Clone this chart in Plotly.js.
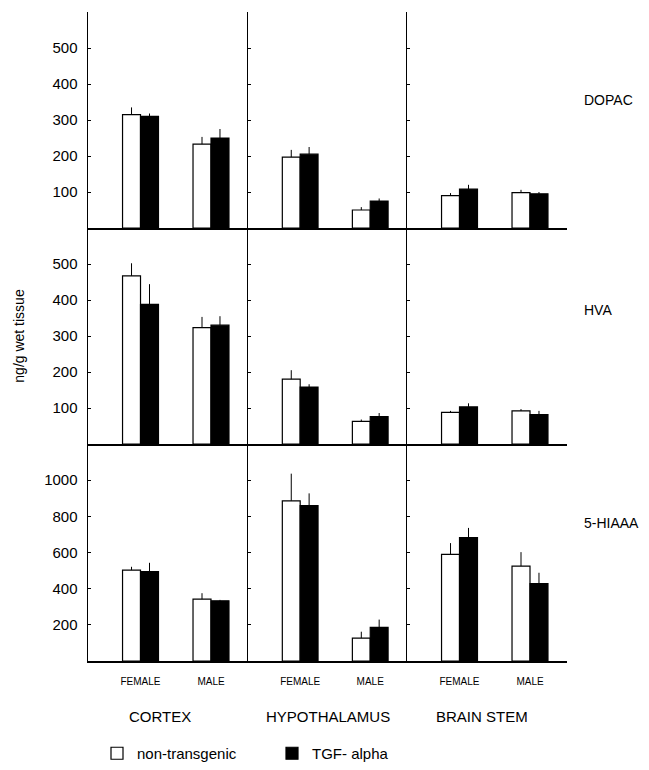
<!DOCTYPE html>
<html>
<head>
<meta charset="utf-8">
<script src="https://cdn.plot.ly/plotly-3.0.1.min.js"></script>
<style>
  html, body { margin: 0; padding: 0; background: #fff; }
  #chart { width: 649px; height: 770px; }
</style>
</head>
<body>
<div id="chart"></div>
<script>
// ---------- data ----------
const regions = ['CORTEX', 'HYPOTHALAMUS', 'BRAIN STEM'];
const sexes = ['FEMALE', 'MALE'];
const metabolites = ['DOPAC', 'HVA', '5-HIAAA'];
const seriesNames = ['non-transgenic', 'TGF- alpha'];

// values per region: [FEMALE, MALE]   (ng/g wet tissue)
const dopacNonTg    = [[315, 233], [197, 50], [90, 98]];
const dopacNonTgErr = [[20, 20], [20, 8], [7, 8]];
const dopacTgf      = [[310, 250], [205, 75], [108, 95]];
const dopacTgfErr   = [[8, 25], [20, 7], [12, 5]];

const hvaNonTg    = [[467, 323], [180, 63], [88, 92]];
const hvaNonTgErr = [[35, 30], [25, 5], [4, 5]];
const hvaTgf      = [[388, 330], [158, 76], [103, 82]];
const hvaTgfErr   = [[56, 25], [8, 10], [10, 10]];

const hiaaNonTg    = [[503, 342], [886, 127], [590, 525]];
const hiaaNonTgErr = [[18, 33], [150, 35], [62, 77]];
const hiaaTgf      = [[495, 333], [860, 186], [683, 428]];
const hiaaTgfErr   = [[48, 5], [67, 43], [53, 60]];

const yRanges = [[0, 600], [0, 600], [0, 1200]];
const yTickVals = [[100, 200, 300, 400, 500], [100, 200, 300, 400, 500], [200, 400, 600, 800, 1000]];
const noDown = [0, 0];

// ---------- layout helpers ----------
const W = 649, H = 770;
const px = v => v / W;
const py = v => 1 - v / H;
const colEdges = [88, 248, 407, 567];
const rowEdges = [[12, 228], [228, 444], [444, 661]];

const rowData = [
  [dopacNonTg, dopacNonTgErr, dopacTgf, dopacTgfErr],
  [hvaNonTg, hvaNonTgErr, hvaTgf, hvaTgfErr],
  [hiaaNonTg, hiaaNonTgErr, hiaaTgf, hiaaTgfErr]
];

const traces = [];
const layout = {
  width: W, height: H,
  margin: { l: 0, r: 0, t: 0, b: 0, autoexpand: false },
  paper_bgcolor: '#fff', plot_bgcolor: 'rgba(0,0,0,0)',
  font: { family: 'Liberation Sans, Arial, sans-serif', color: '#000', size: 15 },
  barmode: 'group', bargap: 0.49, bargroupgap: 0,
  showlegend: true,
  legend: {
    orientation: 'h', x: px(97), y: 0, xanchor: 'left', yanchor: 'bottom',
    font: { size: 15 }, entrywidth: 130, entrywidthmode: 'pixels',
    bgcolor: 'rgba(0,0,0,0)', borderwidth: 0
  },
  annotations: []
};

for (let r = 0; r < 3; r++) {
  const [nt, ntErr, tg, tgErr] = rowData[r];
  for (let c = 0; c < 3; c++) {
    const k = r * 3 + c + 1;
    const xa = 'x' + (k === 1 ? '' : k), ya = 'y' + (k === 1 ? '' : k);
    const xk = 'xaxis' + (k === 1 ? '' : k), yk = 'yaxis' + (k === 1 ? '' : k);
    traces.push({
      type: 'bar', x: sexes, y: nt[c], name: seriesNames[0], legendgroup: 'nt',
      showlegend: k === 1, xaxis: xa, yaxis: ya,
      marker: { color: '#fff', line: { color: '#000', width: 1.2 } },
      error_y: { type: 'data', symmetric: false, array: ntErr[c], arrayminus: noDown,
                 color: '#000', thickness: 1, width: 0 },
      hoverinfo: 'skip'
    });
    traces.push({
      type: 'bar', x: sexes, y: tg[c], name: seriesNames[1], legendgroup: 'tg',
      showlegend: k === 1, xaxis: xa, yaxis: ya,
      marker: { color: '#000', line: { color: '#000', width: 1.2 } },
      error_y: { type: 'data', symmetric: false, array: tgErr[c], arrayminus: noDown,
                 color: '#000', thickness: 1, width: 0 },
      hoverinfo: 'skip'
    });
    layout[xk] = {
      domain: [px(colEdges[c]), px(colEdges[c + 1])],
      anchor: ya, type: 'category', range: [-0.745, 1.525],
      showline: true, linecolor: '#000', linewidth: 1.5,
      showgrid: false, zeroline: false, ticks: '',
      showticklabels: r === 2, ticklabelstandoff: 10,
      tickfont: { size: 10 }, fixedrange: true, automargin: false
    };
    layout[yk] = {
      domain: [py(rowEdges[r][1]), py(rowEdges[r][0])],
      anchor: xa, range: yRanges[r],
      tickvals: yTickVals[r], ticktext: yTickVals[r].map(String),
      showline: true, linecolor: '#000', linewidth: 1.5,
      showgrid: false, zeroline: false,
      ticks: 'inside', ticklen: 3, tickwidth: 1, tickcolor: '#000',
      showticklabels: c === 0, tickfont: { size: 15 }, ticklabelstandoff: 6,
      fixedrange: true, automargin: false
    };
    if (r === 1 && c === 0) {
      layout[yk].title = { text: 'ng/g wet tissue', font: { size: 14 }, standoff: 24 };
    }
  }
  layout.annotations.push({
    text: metabolites[r], xref: 'paper', yref: 'paper',
    x: px(582), y: py([100, 310, 523][r]), xanchor: 'left', yanchor: 'middle',
    showarrow: false, font: { size: 14 }
  });
}
const colCenters = [160, 328, 482];
for (let c = 0; c < 3; c++) {
  layout.annotations.push({
    text: regions[c], xref: 'paper', yref: 'paper',
    x: px(colCenters[c]), y: py(716), xanchor: 'center', yanchor: 'middle',
    showarrow: false, font: { size: 15 }
  });
}

Plotly.newPlot('chart', traces, layout, { staticPlot: true, displayModeBar: false });
</script>
</body>
</html>
